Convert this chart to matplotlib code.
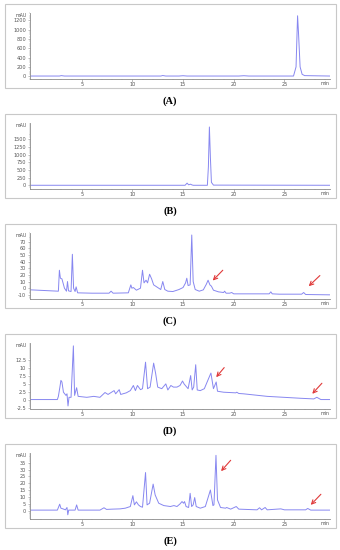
import matplotlib
matplotlib.use("Agg")
import matplotlib.pyplot as plt
from matplotlib.patches import Rectangle
from matplotlib.ticker import MultipleLocator, AutoMinorLocator

# retention time (min) / absorbance (mAU)
time_a = [0, 2.8, 3.0, 3.3, 12.8, 13.0, 13.3, 14.6, 15.0, 15.4, 20.5, 21.0, 21.5,
          25.9, 26.15, 26.3, 26.4, 26.55, 26.75, 27.0, 29.5]
mau_a = [3, 3, 12, 3, 3, 14, 3, 3, 10, 3, 3, 10, 3,
         3, 200, 1300, 900, 200, 40, 12, 3]

time_b = [0, 3.5, 15.2, 15.4, 15.55, 15.75, 15.85, 16.0, 17.4, 17.5, 17.6, 17.7,
          17.8, 18.0, 29.5]
mau_b = [5, 5, 5, 75, 20, 40, 20, 5, 5, 600, 1900, 900, 100, 10, 5]

time_c = [0, 2.0, 2.7, 2.8, 2.9, 3.05, 3.3, 3.5, 3.6, 3.7, 3.95, 4.08, 4.2, 4.35,
          4.45, 4.6, 6.0, 7.7, 7.9, 8.1, 9.6, 9.85, 9.95, 10.1, 10.4, 10.8, 11.0,
          11.15, 11.35, 11.5, 11.7, 11.9, 12.1, 12.4, 12.8, 13.0, 13.2, 13.5, 14.0,
          14.6, 15.0, 15.25, 15.37, 15.5, 15.7, 15.86, 16.0, 16.2, 16.6, 17.0, 17.3,
          17.47, 17.65, 17.8, 18.0, 18.5, 19.0, 19.1, 19.25, 19.6, 19.8, 20.0, 21.0,
          23.5, 23.66, 23.8, 24.5, 26.7, 26.9, 27.1, 29.5]
mau_c = [-2.5, -4, -4.5, 27, 15, 14, 0, -4.5, 10, -4, -5, 51, 0, -5,
         2, -7, -7.5, -7.5, -4.5, -7.5, -7, 5, 0, 1, -3, 0, 27,
         8, 12, 8, 21, 14, 5, 2, -2, 10, -2, -4.5, -5,
         -2, 1, 8, 15, 4, 5, 80, 10, -2, -4.5, -2.5, 6,
         12, 5, 3, -3, -5.5, -6.5, -4.5, -7.5, -7.5, -6.5, -8.5, -8.5,
         -8.5, -5.5, -8.5, -9, -9, -6.5, -9.5, -10]

time_d = [0, 2.6, 2.7, 2.85, 2.95, 3.05, 3.2, 3.45, 3.55, 3.65, 3.75, 3.95, 4.18,
          4.3, 4.5, 4.65, 5.5, 6.2, 6.8, 7.3, 7.6, 8.2, 8.35, 8.7, 8.85, 9.4, 9.8,
          10.1, 10.3, 10.5, 10.8, 11.0, 11.3, 11.5, 11.75, 12.1, 12.3, 12.5, 12.9,
          13.3, 13.5, 13.8, 14.05, 14.4, 14.7, 14.95, 15.1, 15.5, 15.75, 15.9, 16.05,
          16.25, 16.4, 16.7, 17.1, 17.75, 18.0, 18.27, 18.4, 19.0, 20.2, 20.3, 20.5,
          20.95, 23.3, 26.6, 27.9, 28.2, 28.6, 29.5]
mau_d = [0, 0, 1.0, 3.9, 6.0, 5.5, 2.3, 1.3, 1.8, -2.0, 0.7, 0.7, 16.8,
         1.3, 3.7, 1.0, 0.7, 1.0, 0.7, 2.2, 1.6, 2.8, 1.8, 3.1, 1.6, 2.1, 2.8,
         4.4, 2.8, 4.4, 3.1, 3.4, 11.7, 3.4, 3.9, 11.4, 8.1, 3.9, 3.4,
         4.9, 3.0, 4.4, 3.9, 3.9, 4.4, 5.8, 4.9, 3.4, 7.5, 3.0, 3.9,
         10.9, 3.0, 2.8, 3.4, 8.3, 3.4, 5.5, 2.6, 2.3, 2.1, 2.3, 1.9,
         1.8, 1.0, 0.4, 0.2, 0.7, 0, 0]

time_e = [0, 2.6, 2.83, 2.95, 3.15, 3.4, 3.55, 3.63, 3.72, 4.35, 4.5, 4.65, 6.8,
          7.2, 7.45, 8.0, 8.8, 9.3, 9.8, 10.05, 10.2, 10.4, 10.6, 10.8, 11.0, 11.3,
          11.45, 11.7, 12.05, 12.25, 12.6, 13.1, 13.75, 14.1, 14.4, 14.7, 14.9, 15.05,
          15.15, 15.3, 15.55, 15.7, 15.85, 16.0, 16.15, 16.3, 16.7, 17.2, 17.7, 17.95,
          18.05, 18.25, 18.4, 18.7, 19.2, 19.3, 19.7, 20.25, 20.5, 22.3, 22.55, 22.75,
          23.1, 23.3, 24.65, 25.0, 27.1, 27.3, 27.6, 29.5]
mau_e = [0.5, 0.5, 4.8, 1.9, 1.4, 0.7, 2.4, -2.9, 0.5, 0.5, 4.3, 0.5, 0.5,
         2.2, 1.0, 1.2, 1.4, 1.9, 3.1, 11.0, 4.3, 6.5, 4.3, 3.1, 2.6, 27.8,
         4.3, 5.5, 19.4, 11.5, 5.5, 3.8, 3.1, 3.8, 3.1, 5.0, 6.7, 5.5,
         6.7, 3.1, 2.4, 12.7, 3.1, 4.3, 9.6, 3.1, 1.9, 3.1, 15.1, 3.8,
         4.3, 40.3, 7.9, 2.4, 1.9, 2.4, 1.2, 3.1, 1.2, 0.7, 2.2, 0.7,
         2.4, 0.7, 1.4, 0.7, 0.7, 1.7, 0.5, 0.5]

panel_labels = ["(A)", "(B)", "(C)", "(D)", "(E)"]
ylims = [(-50, 1360), (-100, 2030), (-15.5, 83), (-2.8, 17.7), (-5.6, 42)]
yticks = [
    [0, 200, 400, 600, 800, 1000, 1200],
    [0, 250, 500, 750, 1000, 1250, 1500],
    [-10, 0, 10, 20, 30, 40, 50, 60, 70],
    [-2.5, 0, 2.5, 5, 7.5, 10, 12.5],
    [0, 5, 10, 15, 20, 25, 30, 35],
]

# arrows: (tail time, tail mAU, head time, head mAU)
arrows = {
    2: [(18.92, 27, 17.93, 11.5), (28.5, 19, 27.4, 3)],
    3: [(19.06, 10.0, 18.27, 7.0), (28.7, 5.1, 27.75, 1.8)],
    4: [(19.7, 36.7, 18.75, 28.8), (28.6, 12, 27.6, 4.3)],
}

traces = [(time_a, mau_a), (time_b, mau_b), (time_c, mau_c),
          (time_d, mau_d), (time_e, mau_e)]

W, H = 340, 550
fig = plt.figure(figsize=(3.4, 5.5), dpi=100)
tops = [4, 114, 224, 334, 444]
line_col = "#8787f0"
grey = "#8a8a8a"

for i, (t, m) in enumerate(traces):
    y0 = tops[i]
    fig.patches.append(Rectangle((5 / W, 1 - (y0 + 84) / H), 331 / W, 84 / H,
                                 transform=fig.transFigure, fill=False,
                                 edgecolor="#c8c8c8", linewidth=0.8))
    ax = fig.add_axes([30 / W, 1 - (y0 + 74.5) / H, 300 / W, 65.5 / H])
    ax.plot(t, m, color=line_col, linewidth=0.7)
    ax.set_xlim(-0.1, 29.5)
    ax.set_ylim(*ylims[i])

    ax.set_xticks([5, 10, 15, 20, 25])
    ax.xaxis.set_minor_locator(MultipleLocator(1))
    ax.set_yticks(yticks[i])
    ax.set_yticklabels([f"{v:g}" for v in yticks[i]])
    ax.yaxis.set_minor_locator(AutoMinorLocator(4))

    for s in ["top", "right"]:
        ax.spines[s].set_visible(False)
    for s in ["left", "bottom"]:
        ax.spines[s].set_color(grey)
        ax.spines[s].set_linewidth(0.6)
    ax.tick_params(which="major", length=1.8, width=0.4, color=grey,
                   labelsize=3.6, labelcolor="#555555", pad=1)
    ax.tick_params(which="minor", length=1.0, width=0.3, color=grey)

    ax.text(-0.012, 1.0, "mAU", transform=ax.transAxes, ha="right", va="top",
            fontsize=3.4, color="#555555")
    ax.text(1.0, -0.04, "min", transform=ax.transAxes, ha="right", va="top",
            fontsize=3.4, color="#555555")

    for (x1, y1, x2, y2) in arrows.get(i, []):
        ax.annotate("", xy=(x2, y2), xytext=(x1, y1),
                    arrowprops=dict(arrowstyle="->", color="#e03a3a", lw=0.8,
                                    mutation_scale=7, shrinkA=0, shrinkB=0))

    fig.text(0.5, 1 - (y0 + 97) / H, panel_labels[i], ha="center", va="center",
             fontsize=7.5, fontweight="bold", family="Liberation Serif")

fig.savefig("out.png", dpi=100)
